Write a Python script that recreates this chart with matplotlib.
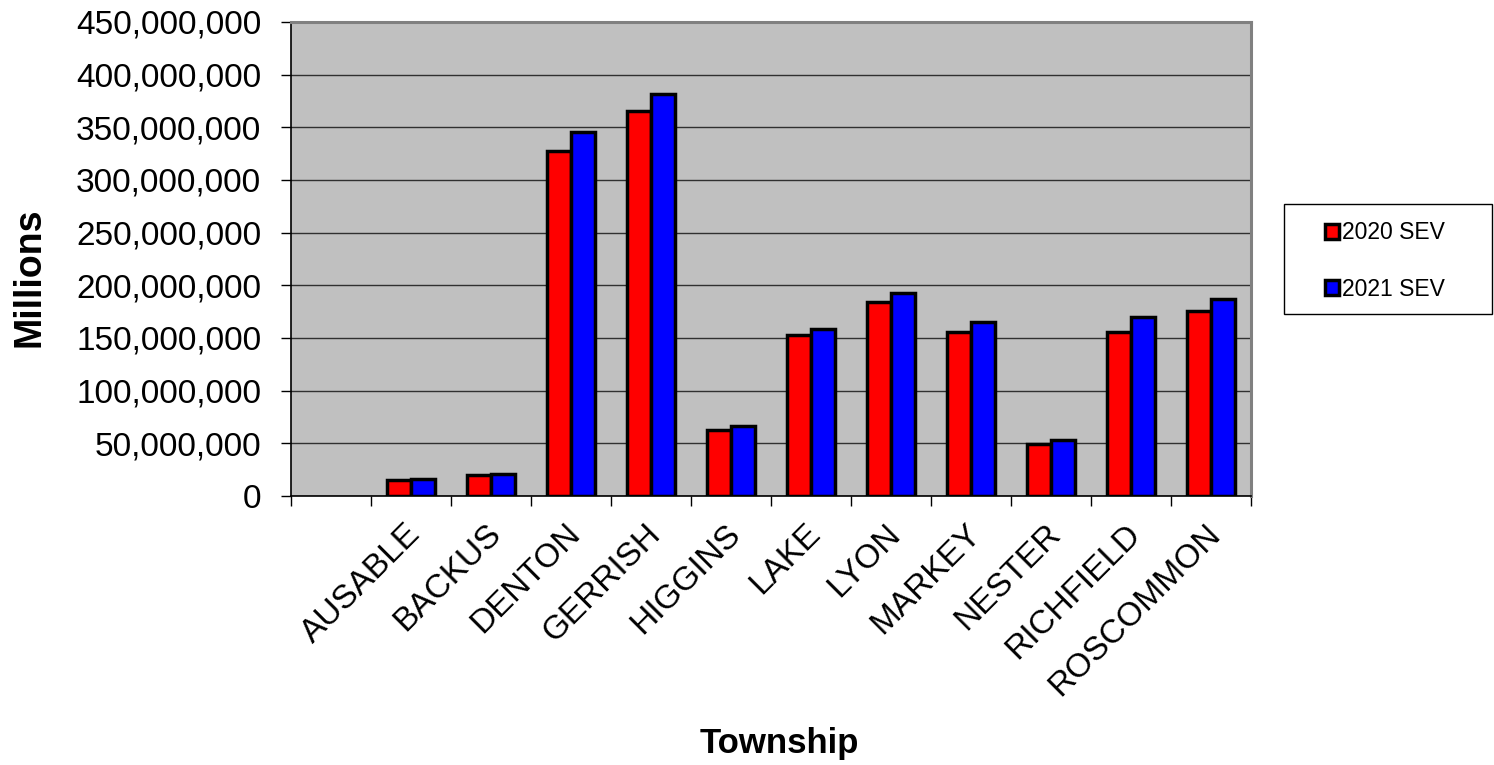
import numpy as np
import matplotlib.pyplot as plt
from matplotlib.patches import Rectangle
from matplotlib.transforms import ScaledTranslation
from matplotlib.ticker import FuncFormatter, MultipleLocator

# first slot is an empty category in the source sheet
townships = ['', 'AUSABLE', 'BACKUS', 'DENTON', 'GERRISH', 'HIGGINS', 'LAKE',
             'LYON', 'MARKEY', 'NESTER', 'RICHFIELD', 'ROSCOMMON']
sev_2020 = [np.nan, 15.0e6, 19.5e6, 327.8e6, 365.5e6, 62.8e6, 153.0e6,
            184.6e6, 156.0e6, 49.1e6, 155.5e6, 176.0e6]
sev_2021 = [np.nan, 16.6e6, 21.3e6, 345.9e6, 381.9e6, 66.2e6, 158.7e6,
            192.8e6, 165.3e6, 52.7e6, 170.2e6, 187.0e6]
series_names = ['2020 SEV', '2021 SEV']

plt.rcParams['font.family'] = ['Liberation Sans', 'DejaVu Sans']

fig = plt.figure(figsize=(14.94, 7.65), dpi=100)
W, H = 1494, 765
ax = fig.add_axes([291 / W, 1 - 496 / H, (1251 - 291) / W, (496 - 22) / H])
ax.set_facecolor('#C0C0C0')

x = np.arange(len(townships))
w = 0.3
ax.bar(x - w / 2, np.array(sev_2020, dtype=float), w, color='#FF0000',
       edgecolor='black', linewidth=2.5, label=series_names[0], zorder=3)
ax.bar(x + w / 2, np.array(sev_2021, dtype=float), w, color='#0000FF',
       edgecolor='black', linewidth=2.5, label=series_names[1], zorder=3)

ax.set_xlim(-0.5, len(townships) - 0.5)
ax.set_ylim(0, 450e6)
ax.yaxis.set_major_locator(MultipleLocator(50e6))
ax.yaxis.set_major_formatter(FuncFormatter(lambda v, p: '{:,.0f}'.format(v)))
ax.grid(axis='y', color='#303030', linewidth=1.0, zorder=1)
ax.set_axisbelow(True)

ax.set_xticks(x)
ax.set_xticklabels(townships, rotation=45, ha='right', rotation_mode='anchor',
                   fontsize=24)
ax.set_xticks(np.arange(-0.5, len(townships)), minor=True)
ax.tick_params(axis='x', which='major', length=0, pad=16)
ax.tick_params(axis='x', which='minor', length=7, width=1, direction='out')
ax.tick_params(axis='y', labelsize=24, length=7.5, width=1, direction='out', pad=14)

# nudge the slanted labels a little to the left, as in the original
shift = ScaledTranslation(-6 / 100, 0, fig.dpi_scale_trans)
for lab in ax.get_xticklabels():
    lab.set_transform(lab.get_transform() + shift)

for side in ['left', 'bottom']:
    ax.spines[side].set_color('black')
    ax.spines[side].set_linewidth(1.2)
for side in ['top', 'right']:
    ax.spines[side].set_color('#808080')
    ax.spines[side].set_linewidth(2.2)

fig.text(29.5 / W, 1 - 277 / H, 'Millions', rotation=90, fontsize=27,
         fontweight='bold', ha='center', va='center')
fig.text(779 / W, 1 - 743 / H, 'Township', fontsize=25,
         fontweight='bold', ha='center', va='center')

# legend frame drawn separately so its size matches the original box
fig.patches.append(Rectangle((1284 / W, 1 - 314 / H), (1492 - 1284) / W, 110 / H,
                             transform=fig.transFigure, fill=False,
                             edgecolor='black', linewidth=1.0))
leg = ax.legend(loc='center left', bbox_to_anchor=(1325 / W, 1 - 261 / H),
                bbox_transform=fig.transFigure, fontsize=16.5, frameon=False,
                handlelength=0.6, handleheight=0.6, handletextpad=0.15,
                labelspacing=1.45, borderpad=0, borderaxespad=0)

fig.savefig('out.png', dpi=100, facecolor='white')
